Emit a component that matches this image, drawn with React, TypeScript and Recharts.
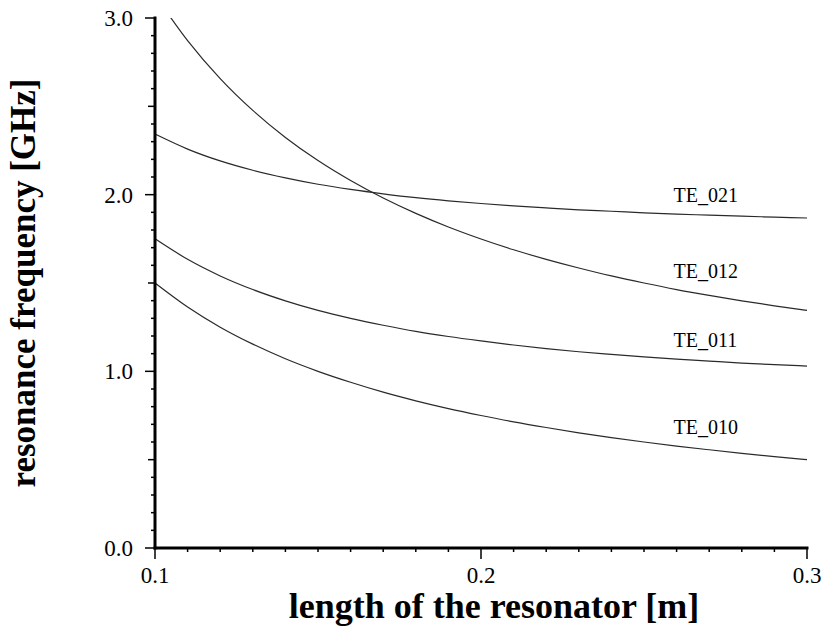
import { LineChart, Line, XAxis, YAxis, Label, LabelList } from "recharts";

// resonator length [m]
const lengths = [
  0.1, 0.11, 0.12, 0.13, 0.14, 0.15, 0.16, 0.17, 0.18, 0.19, 0.2,
  0.21, 0.22, 0.23, 0.24, 0.25, 0.26, 0.27, 0.28, 0.29, 0.3,
];

// resonance frequency [GHz]
const te010 = [1.5, 1.364, 1.25, 1.154, 1.071, 1.0, 0.938, 0.882, 0.833, 0.789, 0.75, 0.714, 0.682, 0.652, 0.625, 0.6, 0.577, 0.556, 0.536, 0.517, 0.5];
const te011 = [1.75, 1.634, 1.54, 1.463, 1.399, 1.345, 1.3, 1.261, 1.226, 1.197, 1.172, 1.149, 1.129, 1.111, 1.096, 1.082, 1.069, 1.058, 1.047, 1.038, 1.03];
const te012 = [3.13, 2.872, 2.657, 2.477, 2.324, 2.193, 2.08, 1.981, 1.894, 1.817, 1.749, 1.688, 1.634, 1.585, 1.54, 1.5, 1.463, 1.43, 1.399, 1.371, 1.345];
const te021 = [2.343, 2.258, 2.191, 2.138, 2.095, 2.059, 2.03, 2.005, 1.983, 1.965, 1.95, 1.937, 1.925, 1.914, 1.906, 1.897, 1.89, 1.884, 1.878, 1.873, 1.868];

const xTicks = lengths;
const yTicks = [
  0, 0.1, 0.2, 0.3, 0.4, 0.5, 0.6, 0.7, 0.8, 0.9, 1.0,
  1.1, 1.2, 1.3, 1.4, 1.5, 1.6, 1.7, 1.8, 1.9, 2.0,
  2.1, 2.2, 2.3, 2.4, 2.5, 2.6, 2.7, 2.8, 2.9, 3.0,
];

const seriesNames = ["TE_010", "TE_011", "TE_012", "TE_021"];
const LABEL_AT = 16; // label sits above the point at L = 0.26

const data = lengths.map((L, i) => ({
  L,
  te010: te010[i],
  te011: te011[i],
  te012: te012[i],
  te021: te021[i],
}));

const FONT = "'Liberation Serif', 'Times New Roman', serif";
const tickText = { fontFamily: FONT, fontSize: 23, fill: "#000" };

const near = (v: number, step: number) => Math.abs(v / step - Math.round(v / step)) < 1e-6;

const BottomTick = (p: any) => {
  const v = p.payload.value;
  const major = near(v, 0.1);
  return (
    <g>
      <line x1={p.x} y1={p.y} x2={p.x} y2={p.y + (major ? 11 : 4)} stroke="#000" strokeWidth={1.5} />
      {major && (
        <text x={p.x} y={p.y + 35} textAnchor="middle" style={tickText}>
          {v.toFixed(1)}
        </text>
      )}
    </g>
  );
};

const TopTick = (p: any) => {
  const v = p.payload.value;
  const len = near(v, 0.1) ? 8 : 4;
  return <line x1={p.x} y1={p.y} x2={p.x} y2={p.y + len} stroke="#000" strokeWidth={1.5} />;
};

const LeftTick = (p: any) => {
  const v = p.payload.value;
  const major = near(v, 1);
  const len = major ? 10 : near(v, 0.5) ? 7 : 4;
  return (
    <g>
      <line x1={p.x - len} y1={p.y} x2={p.x} y2={p.y} stroke="#000" strokeWidth={1.5} />
      {major && (
        <text x={p.x - 22} y={p.y + 8} textAnchor="end" style={tickText}>
          {v.toFixed(1)}
        </text>
      )}
    </g>
  );
};

const RightTick = (p: any) => {
  const v = p.payload.value;
  const len = near(v, 1) ? 10 : near(v, 0.5) ? 7 : 4;
  return <line x1={p.x - len} y1={p.y} x2={p.x} y2={p.y} stroke="#000" strokeWidth={1.5} />;
};

const makeLabel = (name: string) => (p: any) => {
  if (p.index !== LABEL_AT) return null;
  return (
    <text x={p.x - 3} y={p.y - 12} style={{ fontFamily: FONT, fontSize: 20, fill: "#000" }}>
      {name}
    </text>
  );
};

const frame = { stroke: "#000", strokeWidth: 3, strokeLinecap: "square" as const };

export default function App() {
  return (
    <div style={{ position: "absolute", left: 0, top: 0, width: 825, height: 630, background: "#fff" }}>
      <LineChart width={825} height={630} data={data} margin={{ top: 18, right: 18, left: 0, bottom: 7 }}>
        <XAxis
          xAxisId="x"
          dataKey="L"
          type="number"
          domain={[0.1, 0.3]}
          ticks={xTicks}
          interval={0}
          tickSize={0}
          tickMargin={0}
          tickLine={false}
          axisLine={frame}
          tick={BottomTick}
          height={75}
        >
          <Label
            value="length of the resonator [m]"
            position="insideBottom"
            offset={5}
            dx={13}
            style={{ fontFamily: FONT, fontWeight: "bold", fontSize: 36, fill: "#000" }}
          />
        </XAxis>
        <XAxis
          xAxisId="top"
          orientation="top"
          dataKey="L"
          type="number"
          domain={[0.1, 0.3]}
          ticks={xTicks}
          interval={0}
          tickSize={0}
          tickMargin={0}
          tickLine={false}
          axisLine={frame}
          tick={TopTick}
          height={0}
        />
        <YAxis
          yAxisId="y"
          type="number"
          domain={[0, 3]}
          allowDataOverflow
          ticks={yTicks}
          interval={0}
          tickSize={0}
          tickMargin={0}
          tickLine={false}
          axisLine={frame}
          tick={LeftTick}
          width={155}
        >
          <Label
            value="resonance frequency [GHz]"
            position="insideLeft"
            angle={-90}
            offset={23}
            textAnchor="middle"
            style={{ fontFamily: FONT, fontWeight: "bold", fontSize: 35, fill: "#000", textAnchor: "middle" }}
          />
        </YAxis>
        <YAxis
          yAxisId="right"
          orientation="right"
          type="number"
          domain={[0, 3]}
          allowDataOverflow
          ticks={yTicks}
          interval={0}
          tickSize={0}
          tickMargin={0}
          tickLine={false}
          axisLine={frame}
          tick={RightTick}
          width={0}
        />
        {["te010", "te011", "te012", "te021"].map((key, i) => (
          <Line
            key={key}
            xAxisId="x"
            yAxisId="y"
            dataKey={key}
            type="monotone"
            stroke="#2a2a2a"
            strokeWidth={1.2}
            dot={false}
            isAnimationActive={false}
          >
            <LabelList dataKey={key} content={makeLabel(seriesNames[i])} />
          </Line>
        ))}
      </LineChart>
    </div>
  );
}
